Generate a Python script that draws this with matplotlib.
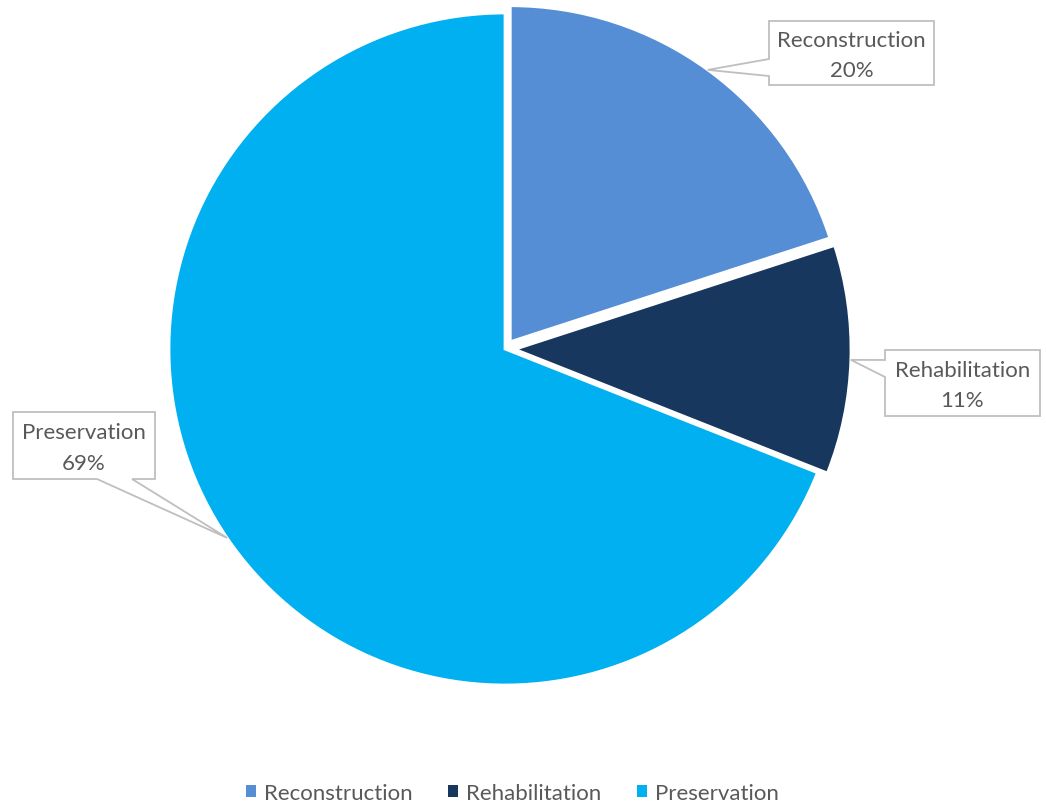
import numpy as np
import matplotlib
matplotlib.use('Agg')
import matplotlib.pyplot as plt
from matplotlib.patches import Polygon

plt.rcParams['font.family'] = ['Lato', 'DejaVu Sans']

categories = ['Reconstruction', 'Rehabilitation', 'Preservation']
shares = [20, 11, 69]
colors = ['#558ED5', '#17375E', '#00B0F0']
explode = [9, 10, 0]  # pie offsets in pixel units

W, H = 1046, 803
fig = plt.figure(figsize=(W / 100, H / 100), dpi=100)
ax = fig.add_axes([0, 0, 1, 1])

cx, cy, r = 505, H - 350, 336
wedges, _ = ax.pie(shares, colors=colors, explode=explode, startangle=90,
                   counterclock=False, radius=r, center=(cx, cy),
                   wedgeprops=dict(edgecolor='white', linewidth=2.0))
ax.set_xlim(0, W)
ax.set_ylim(0, H)
ax.set_aspect('equal')
ax.axis('off')

gray = '#BFBFBF'
txt = '#595959'


def callout(box, base, side, tip, lines):
    # box in pixel coords (x0, ytop, x1, ybottom), y measured from top
    x0, yt, x1, yb = box
    yt, yb = H - yt, H - yb
    if side == 'left':
        b0, b1 = H - base[0], H - base[1]
        pts = [(x0, yt), (x1, yt), (x1, yb), (x0, yb), (x0, b1), tip, (x0, b0)]
    else:  # bottom
        pts = [(x0, yt), (x1, yt), (x1, yb), (base[1], yb), tip, (base[0], yb), (x0, yb)]
    ax.add_patch(Polygon(pts, closed=True, facecolor='white', edgecolor=gray,
                         linewidth=1.3, zorder=5))
    xm = (x0 + x1) / 2
    h = yt - yb
    ax.text(xm, yt - h * 0.30, lines[0], ha='center', va='center',
            fontsize=16, color=txt, zorder=6)
    ax.text(xm, yt - h * 0.76, lines[1], ha='center', va='center',
            fontsize=16, color=txt, zorder=6)


def tip_of(w):
    mid = np.deg2rad((w.theta1 + w.theta2) / 2)
    x, y = w.center
    return (x + w.r * np.cos(mid), y + w.r * np.sin(mid))


boxes = [(769, 22, 934, 86), (885, 351, 1040, 417), (13, 413, 155, 480)]
bases = [(60, 77), (361, 378), (97, 132)]
sides = ['left', 'left', 'bottom']
for w, cat, val, box, base, side in zip(wedges, categories, shares, boxes, bases, sides):
    callout(box, base, side, tip_of(w), (cat, f'{val}%'))

leg = ax.legend(wedges, categories, loc='lower center', bbox_to_anchor=(0.49, -0.026),
                ncol=3, frameon=False, fontsize=16, handlelength=0.45,
                handleheight=0.45, handletextpad=0.35, columnspacing=1.6)
for t in leg.get_texts():
    t.set_color(txt)
for p in leg.get_patches():
    p.set_linewidth(0)

fig.savefig('out.png', dpi=100)
